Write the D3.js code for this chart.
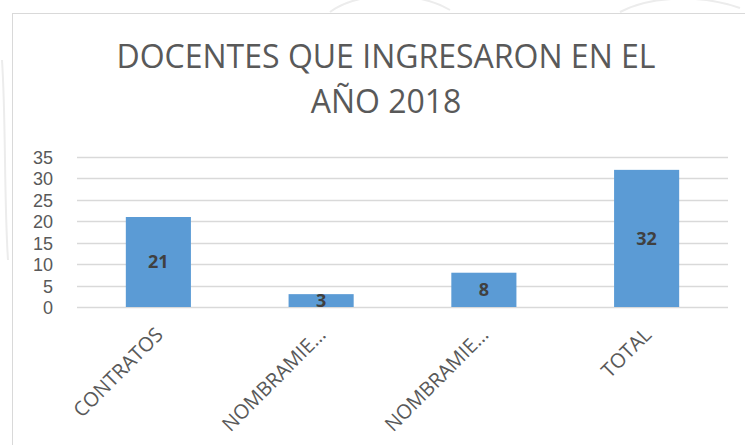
<!DOCTYPE html>
<html>
<head>
<meta charset="utf-8">
<script src="https://cdn.jsdelivr.net/npm/d3@7"></script>
<style>
  body { margin: 0; background: #fff; }
  svg { display: block; font-family: "Open Sans", "Liberation Sans", sans-serif; }
</style>
</head>
<body>
<svg id="chart" width="745" height="445"></svg>
<script>
// chart data
const categories = ["CONTRATOS", "NOMBRAMIE…", "NOMBRAMIE…", "TOTAL"];
const values = [21, 3, 8, 32];
const yTicks = [0, 5, 10, 15, 20, 25, 30, 35];
const titleLines = ["DOCENTES QUE INGRESARON EN EL", "AÑO 2018"];

const svg = d3.select("#chart");
const width = 745, height = 445;
const plot = { left: 77, right: 728, top: 157, bottom: 307 };

// faint watermark behind the chart box
const wm = svg.append("g").attr("fill", "none").attr("stroke", "#ececec").attr("stroke-width", 2);
wm.append("path").attr("d", "M330,12 C360,-10 420,-8 450,10");
wm.append("path").attr("d", "M620,12 C650,-4 700,-6 740,8");
wm.append("path").attr("d", "M2,60 C6,120 4,200 8,260");

// chart box
svg.append("rect")
  .attr("x", 12.5).attr("y", 13.5)
  .attr("width", width).attr("height", height)
  .attr("fill", "#fff")
  .attr("stroke", "#d9d9d9");

// title
svg.append("g").selectAll("text")
  .data(titleLines)
  .join("text")
    .attr("x", 386)
    .attr("y", (d, i) => 68 + i * 45)
    .attr("text-anchor", "middle")
    .style("font-size", "32px")
    .style("fill", "#595959")
    .text(d => d);

const x = d3.scaleBand()
  .domain(d3.range(categories.length))
  .range([plot.left, plot.right])
  .paddingInner(0.6)
  .paddingOuter(0.3);

const y = d3.scaleLinear()
  .domain([0, 35])
  .range([plot.bottom, plot.top]);

// gridlines
svg.append("g")
  .selectAll("line")
  .data(yTicks)
  .join("line")
    .attr("x1", plot.left)
    .attr("x2", plot.right)
    .attr("y1", d => Math.round(y(d)) + 0.5)
    .attr("y2", d => Math.round(y(d)) + 0.5)
    .attr("stroke", "#d9d9d9")
    .attr("stroke-width", 1.3);

// y axis labels
const yAxis = svg.append("g")
  .attr("transform", `translate(${plot.left - 24},0)`)
  .call(d3.axisLeft(y).tickValues(yTicks).tickSize(0).tickPadding(0));
yAxis.select(".domain").remove();
yAxis.selectAll("text")
  .style("font-family", "'Liberation Sans', Arial, sans-serif")
  .style("font-size", "18px")
  .attr("dy", "0.36em")
  .attr("fill", "#595959");

// bars
svg.append("g")
  .selectAll("rect")
  .data(values)
  .join("rect")
    .attr("x", (d, i) => x(i))
    .attr("y", d => y(d))
    .attr("width", x.bandwidth())
    .attr("height", d => y(0) - y(d))
    .attr("fill", "#5b9bd5");

// value labels
svg.append("g")
  .selectAll("text")
  .data(values)
  .join("text")
    .attr("x", (d, i) => x(i) + x.bandwidth() / 2)
    .attr("y", d => (y(d) + y(0)) / 2)
    .attr("dy", "0.36em")
    .attr("text-anchor", "middle")
    .style("font-size", "18px")
    .style("font-weight", "bold")
    .style("fill", "#404040")
    .text(d => d);

// category labels, rotated
svg.append("g")
  .selectAll("text")
  .data(categories)
  .join("text")
    .attr("transform", (d, i) => `translate(${x(i) + x.bandwidth() / 2 + 6},${plot.bottom + 29}) rotate(-45)`)
    .attr("text-anchor", "end")
    .style("font-size", "20px")
    .style("fill", "#595959")
    .text(d => d);
</script>
</body>
</html>
